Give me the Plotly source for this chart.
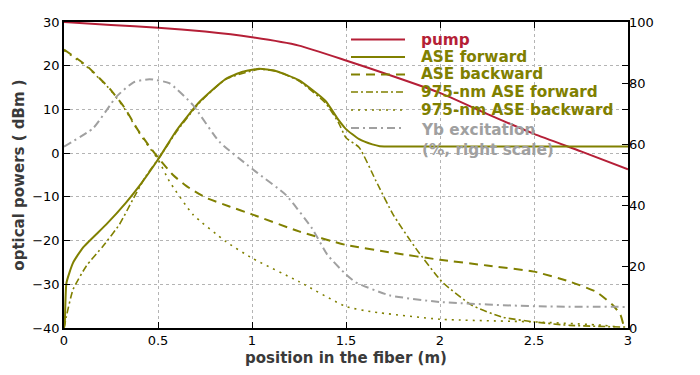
import plotly.graph_objects as go

# ---- data ----
pump_x = [0, 0.25, 0.5, 0.75, 1.0, 1.25, 1.5, 1.75, 2.0, 2.25, 2.5, 2.75, 3.0]
pump_y = [30, 29.3, 28.7, 27.8, 26.5, 24.6, 21.2, 17.6, 13.8, 9.0, 4.4, 0.4, -3.7]

asef_x = [0, 0.004, 0.013, 0.048, 0.101, 0.225, 0.33, 0.401, 0.507, 0.6, 0.72,
          0.861, 0.95, 1.038, 1.126, 1.249, 1.39, 1.46, 1.5, 1.57, 1.64, 1.68, 1.75, 3.0]
asef_y = [-40, -39, -29.7, -25.1, -21.6, -16.3, -11.3, -7.5, -1.0, 5.3, 11.7,
          17.0, 18.6, 19.3, 18.8, 16.7, 12.0, 7.6, 5.5, 3.2, 2.0, 1.6, 1.5, 1.5]

aseb_x = [0, 0.12, 0.244, 0.32, 0.39, 0.45, 0.5, 0.58, 0.65, 0.755, 0.88, 1.0, 1.25, 1.5,
          1.75, 2.0, 2.25, 2.5, 2.69, 2.83, 2.92, 2.96, 2.98, 3.0]
aseb_y = [23.7, 20.0, 14.7, 10.5, 5.5, 1.8, -1.0, -5.0, -7.5, -10.2, -12.2, -14.0, -17.9, -21.0,
          -22.8, -24.4, -25.7, -27.1, -29.4, -31.7, -34.8, -37.0, -40.0, -43.0]

f975_x = [0, 0.005, 0.013, 0.048, 0.119, 0.207, 0.295, 0.366, 0.436, 0.507, 0.6, 0.72, 0.86, 1.04, 1.13,
          1.25, 1.39, 1.46, 1.5, 1.57, 1.66, 1.75, 1.87, 2.01, 2.17, 2.33, 2.5, 2.69, 3.0]
f975_y = [-40, -39, -37.3, -31.2, -25.8, -21.3, -16.3, -10.6, -5.2, -1.0, 5.0, 11.5, 16.9, 19.2, 18.7,
          16.5, 11.5, 7.0, 3.5, 1.3, -6.4, -14.0, -21.7, -29.4, -34.8, -37.5, -38.6, -39.4, -39.8]

b975_x = [0, 0.12, 0.244, 0.32, 0.39, 0.45, 0.5, 0.56, 0.685, 0.86, 1.0, 1.25, 1.5, 1.64,
          2.0, 2.5, 2.87, 2.95, 3.0]
b975_y = [23.5, 19.8, 14.6, 10.3, 5.3, 1.5, -1.4, -6.4, -14.0, -20.2, -24.0, -29.4, -35.1, -36.3,
          -38.0, -38.6, -39.4, -40.0, -50.0]

yb_x = [0, 0.155, 0.279, 0.37, 0.455, 0.56, 0.685, 0.826, 1.02, 1.18, 1.32, 1.4, 1.5, 1.55,
        1.73, 2.0, 2.5, 3.0]
yb_y = [59.3, 65.3, 75.6, 80.3, 81.3, 80.0, 72.9, 60.9, 51.1, 43.5, 32.5, 24.0, 17.5, 15.0,
        10.7, 8.5, 7.1, 6.9]

x_ticks = [0, 0.5, 1, 1.5, 2, 2.5, 3]
x_tick_labels = ["0", "0.5", "1", "1.5", "2", "2.5", "3"]
y_ticks = [-40, -30, -20, -10, 0, 10, 20, 30]
y2_ticks = [0, 20, 40, 60, 80, 100]

legend_labels = ["pump", "ASE forward", "ASE backward", "975-nm ASE forward",
                 "975-nm ASE backward", "Yb excitation<br>(%, right scale)"]

RED = "#b51f37"
OLIVE = "#808000"
GRAY = "#a0a0a0"
FONT = "DejaVu Sans"

styles = [
    dict(color=RED, width=2),
    dict(color=OLIVE, width=2),
    dict(color=OLIVE, width=2, dash="9px,6px"),
    dict(color=OLIVE, width=1.6, dash="7px,3px,2px,3px"),
    dict(color=OLIVE, width=1.6, dash="2px,5px"),
    dict(color=GRAY, width=2, dash="8px,4px,2px,4px"),
]
series = [(pump_x, pump_y, "y"), (asef_x, asef_y, "y"), (aseb_x, aseb_y, "y"),
          (f975_x, f975_y, "y"), (b975_x, b975_y, "y"), (yb_x, yb_y, "y2")]

fig = go.Figure()
for (xs, ys, ax), st, name in zip(series, styles, legend_labels):
    fig.add_trace(go.Scatter(x=xs, y=ys, mode="lines", yaxis=ax, name=name, showlegend=False,
                             line=dict(shape="spline", smoothing=0.5, **st)))

# hand-placed legend (window px: plot area 64..628 wide, 22..328 tall)
PL, PW, PT, PH = 64, 564, 22, 306
legend_rows = [39.5, 57, 74.5, 92, 110, 128]
for st, name, py in zip(styles, legend_labels, legend_rows):
    yp = (PT + PH - py) / PH
    fig.add_shape(type="line", xref="paper", yref="paper",
                  x0=(351 - PL) / PW, x1=(405 - PL) / PW, y0=yp, y1=yp,
                  line=dict(color=st["color"], width=st["width"], dash=st.get("dash", "solid")))
    fig.add_annotation(xref="paper", yref="paper", x=(419 - PL) / PW, y=yp,
                       xanchor="left", yanchor="middle" if "<br>" not in name else "top",
                       yshift=0 if "<br>" not in name else 9.5,
                       text=name, showarrow=False, align="left",
                       font=dict(family=FONT, size=15.3, weight=700, color=st["color"]))

grid = dict(showgrid=True, gridcolor="#b4b4b4", griddash="dot", gridwidth=1, zeroline=False)

# page body has an 8 px margin, so the figure is 16 px smaller than the window
fig.update_layout(
    template="none",
    width=684, height=359,
    margin=dict(l=56, r=64, t=14, b=39),
    paper_bgcolor="white", plot_bgcolor="white",
    font=dict(family=FONT, size=13, color="black"),
    showlegend=False,
    xaxis=dict(range=[0, 3], tickvals=x_ticks, ticktext=x_tick_labels, ticks="inside", ticklen=6,
               tickcolor="black", showline=True, linecolor="black", linewidth=1.5, mirror="ticks",
               automargin=False, **grid,
               title=dict(text="position in the fiber (m)", font=dict(family=FONT, size=15, weight=700, color="#3a3a3a"),
                          standoff=11)),
    yaxis=dict(range=[-40, 30], tickvals=y_ticks, ticks="inside", ticklen=6, tickcolor="black",
               showline=True, linecolor="black", linewidth=1.5, mirror="ticks", automargin=False, **grid,
               title=dict(text="optical powers ( dBm )", font=dict(family=FONT, size=15, weight=700, color="#3a3a3a"),
                          standoff=4)),
    yaxis2=dict(range=[0, 100], tickvals=y2_ticks, overlaying="y", side="right", ticks="inside", ticklen=6,
                tickcolor="black", showgrid=False, zeroline=False, showline=False, automargin=False),
)

fig.write_html("out.html")
